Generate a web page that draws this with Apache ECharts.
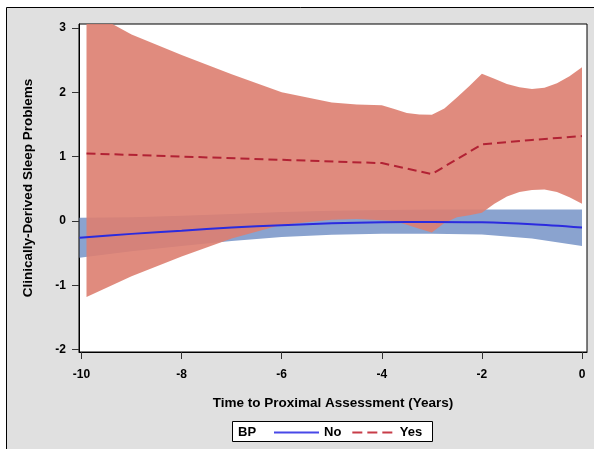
<!DOCTYPE html>
<html>
<head>
<meta charset="utf-8">
<script src="https://cdn.jsdelivr.net/npm/echarts@6/dist/echarts.min.js"></script>
<style>
  html, body { margin: 0; padding: 0; background: #ffffff; }
  #chart { width: 594px; height: 449px; }
</style>
</head>
<body>
<div id="chart"></div>
<script>
// tick labels
const xTicks = [-10, -8, -6, -4, -2, 0];
const yTicks = [-2, -1, 0, 1, 2, 3];

// BP = No
const noX = [-10.04, -9, -8, -7, -6, -5, -4, -3, -2, -1, 0];
const noMean = [-0.26, -0.20, -0.15, -0.10, -0.065, -0.035, -0.02, -0.015, -0.02, -0.05, -0.10];
const noUpper = [0.05, 0.06, 0.08, 0.11, 0.14, 0.16, 0.17, 0.18, 0.18, 0.18, 0.18];
const noLower = [-0.57, -0.47, -0.39, -0.31, -0.25, -0.215, -0.20, -0.20, -0.21, -0.27, -0.39];

// BP = Yes
const yesX = [-9.9, -4, -3, -2, -1, 0];
const yesMean = [1.05, 0.90, 0.73, 1.19, 1.26, 1.32];
const yesBandX = [-9.9, -9, -8, -7, -6, -5, -4.5, -4, -3.75, -3.5, -3.25, -3, -2.75, -2.5, -2.25, -2,
  -1.75, -1.5, -1.25, -1, -0.75, -0.5, -0.25, 0];
const yesUpper = [3.28, 2.90, 2.58, 2.28, 2.00, 1.84, 1.81, 1.80, 1.74, 1.68, 1.655, 1.65, 1.75, 1.92, 2.10, 2.29,
  2.21, 2.13, 2.08, 2.05, 2.07, 2.14, 2.25, 2.39];
const yesLower = [-1.18, -0.86, -0.55, -0.27, -0.06, 0.02, 0.03, 0.01, 0.0, -0.06, -0.12, -0.18, -0.03, 0.06, 0.09, 0.13,
  0.27, 0.38, 0.45, 0.48, 0.49, 0.45, 0.37, 0.27];

const font = '"Liberation Sans", Arial, sans-serif';
const pairs = (xs, ys) => xs.map((x, i) => [x, ys[i]]);

// confidence band as one polygon: upper edge left to right, lower edge back
function band(name, xs, lo, hi, color, z) {
  return {
    name, type: 'custom', z, silent: true,
    data: xs.map((x, i) => [x, lo[i], hi[i]]),
    encode: { x: 0, y: [1, 2] },
    renderItem(params, api) {
      if (params.dataIndex !== 0) return null;
      const top = xs.map((x, i) => api.coord([x, hi[i]]));
      const bottom = xs.map((x, i) => api.coord([x, lo[i]])).reverse();
      const cs = params.coordSys;
      return {
        type: 'polygon',
        shape: { points: top.concat(bottom) },
        style: { fill: color },
        clipPath: { type: 'rect', shape: { x: cs.x, y: cs.y, width: cs.width, height: cs.height } }
      };
    }
  };
}

const titleStyle = { fontFamily: font, fontWeight: 'bold', fontSize: 13.5, color: '#000000' };
const tickStyle = { fontFamily: font, fontWeight: 'bold', fontSize: 12, color: '#000000' };

const chart = echarts.init(document.getElementById('chart'), null, { renderer: 'canvas' });
chart.setOption({
  animation: false,
  graphic: [
    {
      type: 'rect', z: -10, silent: true,
      shape: { x: 6.5, y: 7.5, width: 620, height: 470 },
      style: { fill: '#e0e0e0', stroke: '#000000', lineWidth: 1 }
    },
    {
      type: 'rect', z: 10, silent: true,
      shape: { x: 232.5, y: 421.5, width: 200, height: 20 },
      style: { fill: '#ffffff', stroke: '#000000', lineWidth: 1 }
    },
    {
      type: 'text', z: 11, silent: true, left: 238, top: 426,
      style: { text: 'BP', font: 'bold 13px ' + font, fill: '#000000' }
    }
  ],
  grid: {
    left: 79, right: 7, top: 24, bottom: 97,
    show: true, backgroundColor: '#ffffff', borderColor: '#000000', borderWidth: 1
  },
  legend: {
    data: [
      { name: 'No', icon: 'rect' },
      { name: 'Yes', icon: 'path://M0,0h10v2h-10z M15,0h10v2h-10z M30,0h10v2h-10z' }
    ],
    left: 274, top: 426, padding: 0, z: 12,
    itemWidth: 45, itemHeight: 2, itemGap: 11,
    textStyle: { fontFamily: font, fontWeight: 'bold', fontSize: 13, color: '#000000' }
  },
  xAxis: {
    type: 'value', min: -10.05, max: 0.1,
    name: 'Time to Proximal Assessment (Years)', nameLocation: 'middle', nameGap: 44,
    nameTextStyle: titleStyle,
    axisLine: { show: true, onZero: false, lineStyle: { color: '#000000' } },
    axisTick: { show: true, length: 7, customValues: xTicks, lineStyle: { color: '#333333' } },
    axisLabel: Object.assign({ customValues: xTicks, margin: 17 }, tickStyle),
    splitLine: { show: false }
  },
  yAxis: {
    type: 'value', min: -2.036, max: 3.062,
    name: 'Clinically-Derived Sleep Problems', nameLocation: 'middle', nameGap: 44,
    nameTextStyle: titleStyle,
    axisLine: { show: true, onZero: false, lineStyle: { color: '#000000' } },
    axisTick: { show: true, length: 7, customValues: yTicks, lineStyle: { color: '#333333' } },
    axisLabel: Object.assign({ customValues: yTicks, margin: 13 }, tickStyle),
    splitLine: { show: false }
  },
  series: [
    band('No band', noX, noLower, noUpper, '#8aa3cf', 1),
    band('Yes band', yesBandX, yesLower, yesUpper, 'rgba(221,126,112,0.9)', 2),
    {
      name: 'No', type: 'line', data: pairs(noX, noMean), symbol: 'none', smooth: 0.3, z: 3,
      lineStyle: { color: '#2b2bdf', width: 2 }, itemStyle: { color: '#4848e8' }
    },
    {
      name: 'Yes', type: 'line', data: pairs(yesX, yesMean), symbol: 'none', z: 4,
      lineStyle: { color: '#b22234', width: 2, type: [9, 5] }, itemStyle: { color: '#c83c48' }
    }
  ]
});
</script>
</body>
</html>
